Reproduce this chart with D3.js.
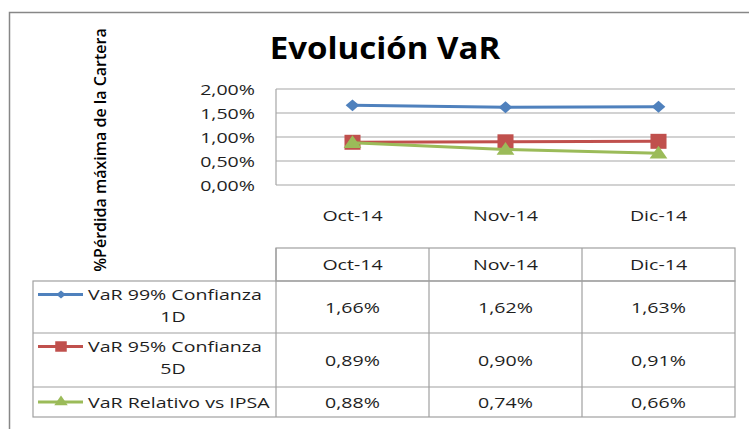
<!DOCTYPE html>
<html>
<head>
<meta charset="utf-8">
<script src="https://cdn.jsdelivr.net/npm/d3@7"></script>
<style>
  body { margin: 0; background: #fff; }
  text { font-family: "Open Sans", sans-serif; fill: #1e1e1e; }
</style>
</head>
<body>
<div id="chart"></div>
<script>
// datos del grafico
const meses = ["Oct-14", "Nov-14", "Dic-14"];
const seriesNombres = ["VaR 99% Confianza 1D", "VaR 95% Confianza 5D", "VaR Relativo vs IPSA"];
const var99 = [1.66, 1.62, 1.63];
const var95 = [0.89, 0.90, 0.91];
const varRel = [0.88, 0.74, 0.66];
const yTicks = [0, 0.5, 1, 1.5, 2];

const colores = ["#4F81BD", "#C0504D", "#9BBB59"];
const series = [var99, var95, varRel];

const width = 749, height = 429;
const plot = { left: 276, right: 735, top: 89, bottom: 185 };
// la imagen original esta estirada a lo ancho
const sx = 1.28;
const fs = "15.3px";

const svg = d3.select("#chart")
    .append("svg")
    .attr("width", width)
    .attr("height", height);

// texto estirado horizontalmente
function texto(g, x, y, s, anchor, escala) {
    return g.append("text")
        .attr("transform", `translate(${x}, ${y}) scale(${escala || sx}, 1)`)
        .attr("dy", "0.36em")
        .attr("text-anchor", anchor || "middle")
        .style("font-size", fs)
        .text(s);
}

// borde exterior
svg.append("rect")
    .attr("x", 9.5).attr("y", 12.5)
    .attr("width", 760).attr("height", 440)
    .attr("fill", "none")
    .attr("stroke", "#878787")
    .attr("stroke-width", 1.5);

// titulo
svg.append("text")
    .attr("transform", "translate(385, 59) scale(1.12, 1)")
    .attr("text-anchor", "middle")
    .style("font-size", "29.5px")
    .style("font-weight", "bold")
    .style("fill", "#000")
    .text("Evolución VaR");

// titulo eje y
svg.append("text")
    .attr("transform", "translate(106, 150) rotate(-90)")
    .attr("text-anchor", "middle")
    .style("font-size", "16px")
    .style("font-weight", "600")
    .style("fill", "#000")
    .text("%Pérdida máxima de la Cartera");

const x = d3.scaleBand()
    .domain(meses)
    .range([plot.left, plot.right]);

const y = d3.scaleLinear()
    .domain([0, 2])
    .range([plot.bottom, plot.top]);

// lineas de la grilla
svg.append("g")
    .selectAll("line")
    .data(yTicks)
    .join("line")
    .attr("x1", plot.left).attr("x2", plot.right)
    .attr("y1", d => y(d)).attr("y2", d => y(d))
    .attr("stroke", "#a6a6a6")
    .attr("stroke-width", 1.2);

svg.append("line")
    .attr("x1", plot.left).attr("x2", plot.left)
    .attr("y1", plot.top).attr("y2", plot.bottom)
    .attr("stroke", "#a6a6a6")
    .attr("stroke-width", 1.2);

// etiquetas eje y
const fmt = d => d3.format(".2f")(d).replace(".", ",") + "%";
const ejeY = svg.append("g");
yTicks.forEach(t => texto(ejeY, 255, y(t), fmt(t), "end"));

// etiquetas eje x
const ejeX = svg.append("g");
meses.forEach(m => texto(ejeX, x(m) + x.bandwidth() / 2, 215, m));

// simbolos (estirados igual que la imagen)
const marcas = [
    { type: d3.symbolDiamond2, size: 90, scx: 1.15 },
    { type: d3.symbolSquare, size: 225, scx: 1.07 },
    { type: d3.symbolTriangle, size: 95, scx: 1.2 }
];

// lineas de las series
const linea = d3.line()
    .x((d, i) => x(meses[i]) + x.bandwidth() / 2)
    .y(d => y(d));

series.forEach((s, k) => {
    svg.append("path")
        .datum(s)
        .attr("d", linea)
        .attr("fill", "none")
        .attr("stroke", colores[k])
        .attr("stroke-width", 3);
    svg.append("g")
        .selectAll("path")
        .data(s)
        .join("path")
        .attr("transform", (d, i) => `translate(${x(meses[i]) + x.bandwidth() / 2}, ${y(d) + (k === 2 ? 1 : 0)}) scale(${marcas[k].scx}, 1)`)
        .attr("d", d3.symbol().type(marcas[k].type).size(marcas[k].size))
        .attr("fill", colores[k]);
});

// tabla de datos
const filas = [248, 281, 333, 387, 417];
const colLeyenda = 33;
const tabla = svg.append("g")
    .attr("stroke", "#a0a0a0")
    .attr("stroke-width", 1.2)
    .attr("fill", "none");

tabla.append("rect")
    .attr("x", plot.left).attr("y", filas[0])
    .attr("width", plot.right - plot.left).attr("height", filas[1] - filas[0]);
tabla.append("rect")
    .attr("x", colLeyenda).attr("y", filas[1])
    .attr("width", plot.right - colLeyenda).attr("height", filas[4] - filas[1]);
filas.slice(2, 4).forEach(f => {
    tabla.append("line")
        .attr("x1", colLeyenda).attr("x2", plot.right)
        .attr("y1", f).attr("y2", f);
});
meses.forEach(m => {
    tabla.append("line")
        .attr("x1", x(m)).attr("x2", x(m))
        .attr("y1", filas[0]).attr("y2", filas[4]);
});

const encabezado = svg.append("g");
meses.forEach(m => texto(encabezado, x(m) + x.bandwidth() / 2, (filas[0] + filas[1]) / 2, m));

// valores y leyenda
const lineasLeyenda = [["VaR 99% Confianza", "1D"], ["VaR 95% Confianza", "5D"], ["VaR Relativo vs IPSA"]];
const simbLeyenda = [
    { type: d3.symbolDiamond2, size: 40, scx: 1.2 },
    { type: d3.symbolSquare, size: 110, scx: 1.1 },
    { type: d3.symbolTriangle, size: 55, scx: 1.2 }
];
series.forEach((s, k) => {
    const top = filas[k + 1], bottom = filas[k + 2];
    const centro = (top + bottom) / 2;
    const celdas = svg.append("g");
    s.forEach((v, i) => texto(celdas, x(meses[i]) + x.bandwidth() / 2, centro, fmt(v)));

    const lns = lineasLeyenda[k];
    const y0 = lns.length === 1 ? centro : top + 13.5;
    const ley = svg.append("g");
    texto(ley, 88, y0, lns[0], "start");
    if (lns.length > 1) texto(ley, 173, y0 + 21.5, lns[1]);

    ley.append("line")
        .attr("x1", 38).attr("x2", 83)
        .attr("y1", y0).attr("y2", y0)
        .attr("stroke", colores[k])
        .attr("stroke-width", 3);
    ley.append("path")
        .attr("transform", `translate(61, ${y0}) scale(${simbLeyenda[k].scx}, 1)`)
        .attr("d", d3.symbol().type(simbLeyenda[k].type).size(simbLeyenda[k].size))
        .attr("fill", colores[k]);
});
</script>
</body>
</html>
